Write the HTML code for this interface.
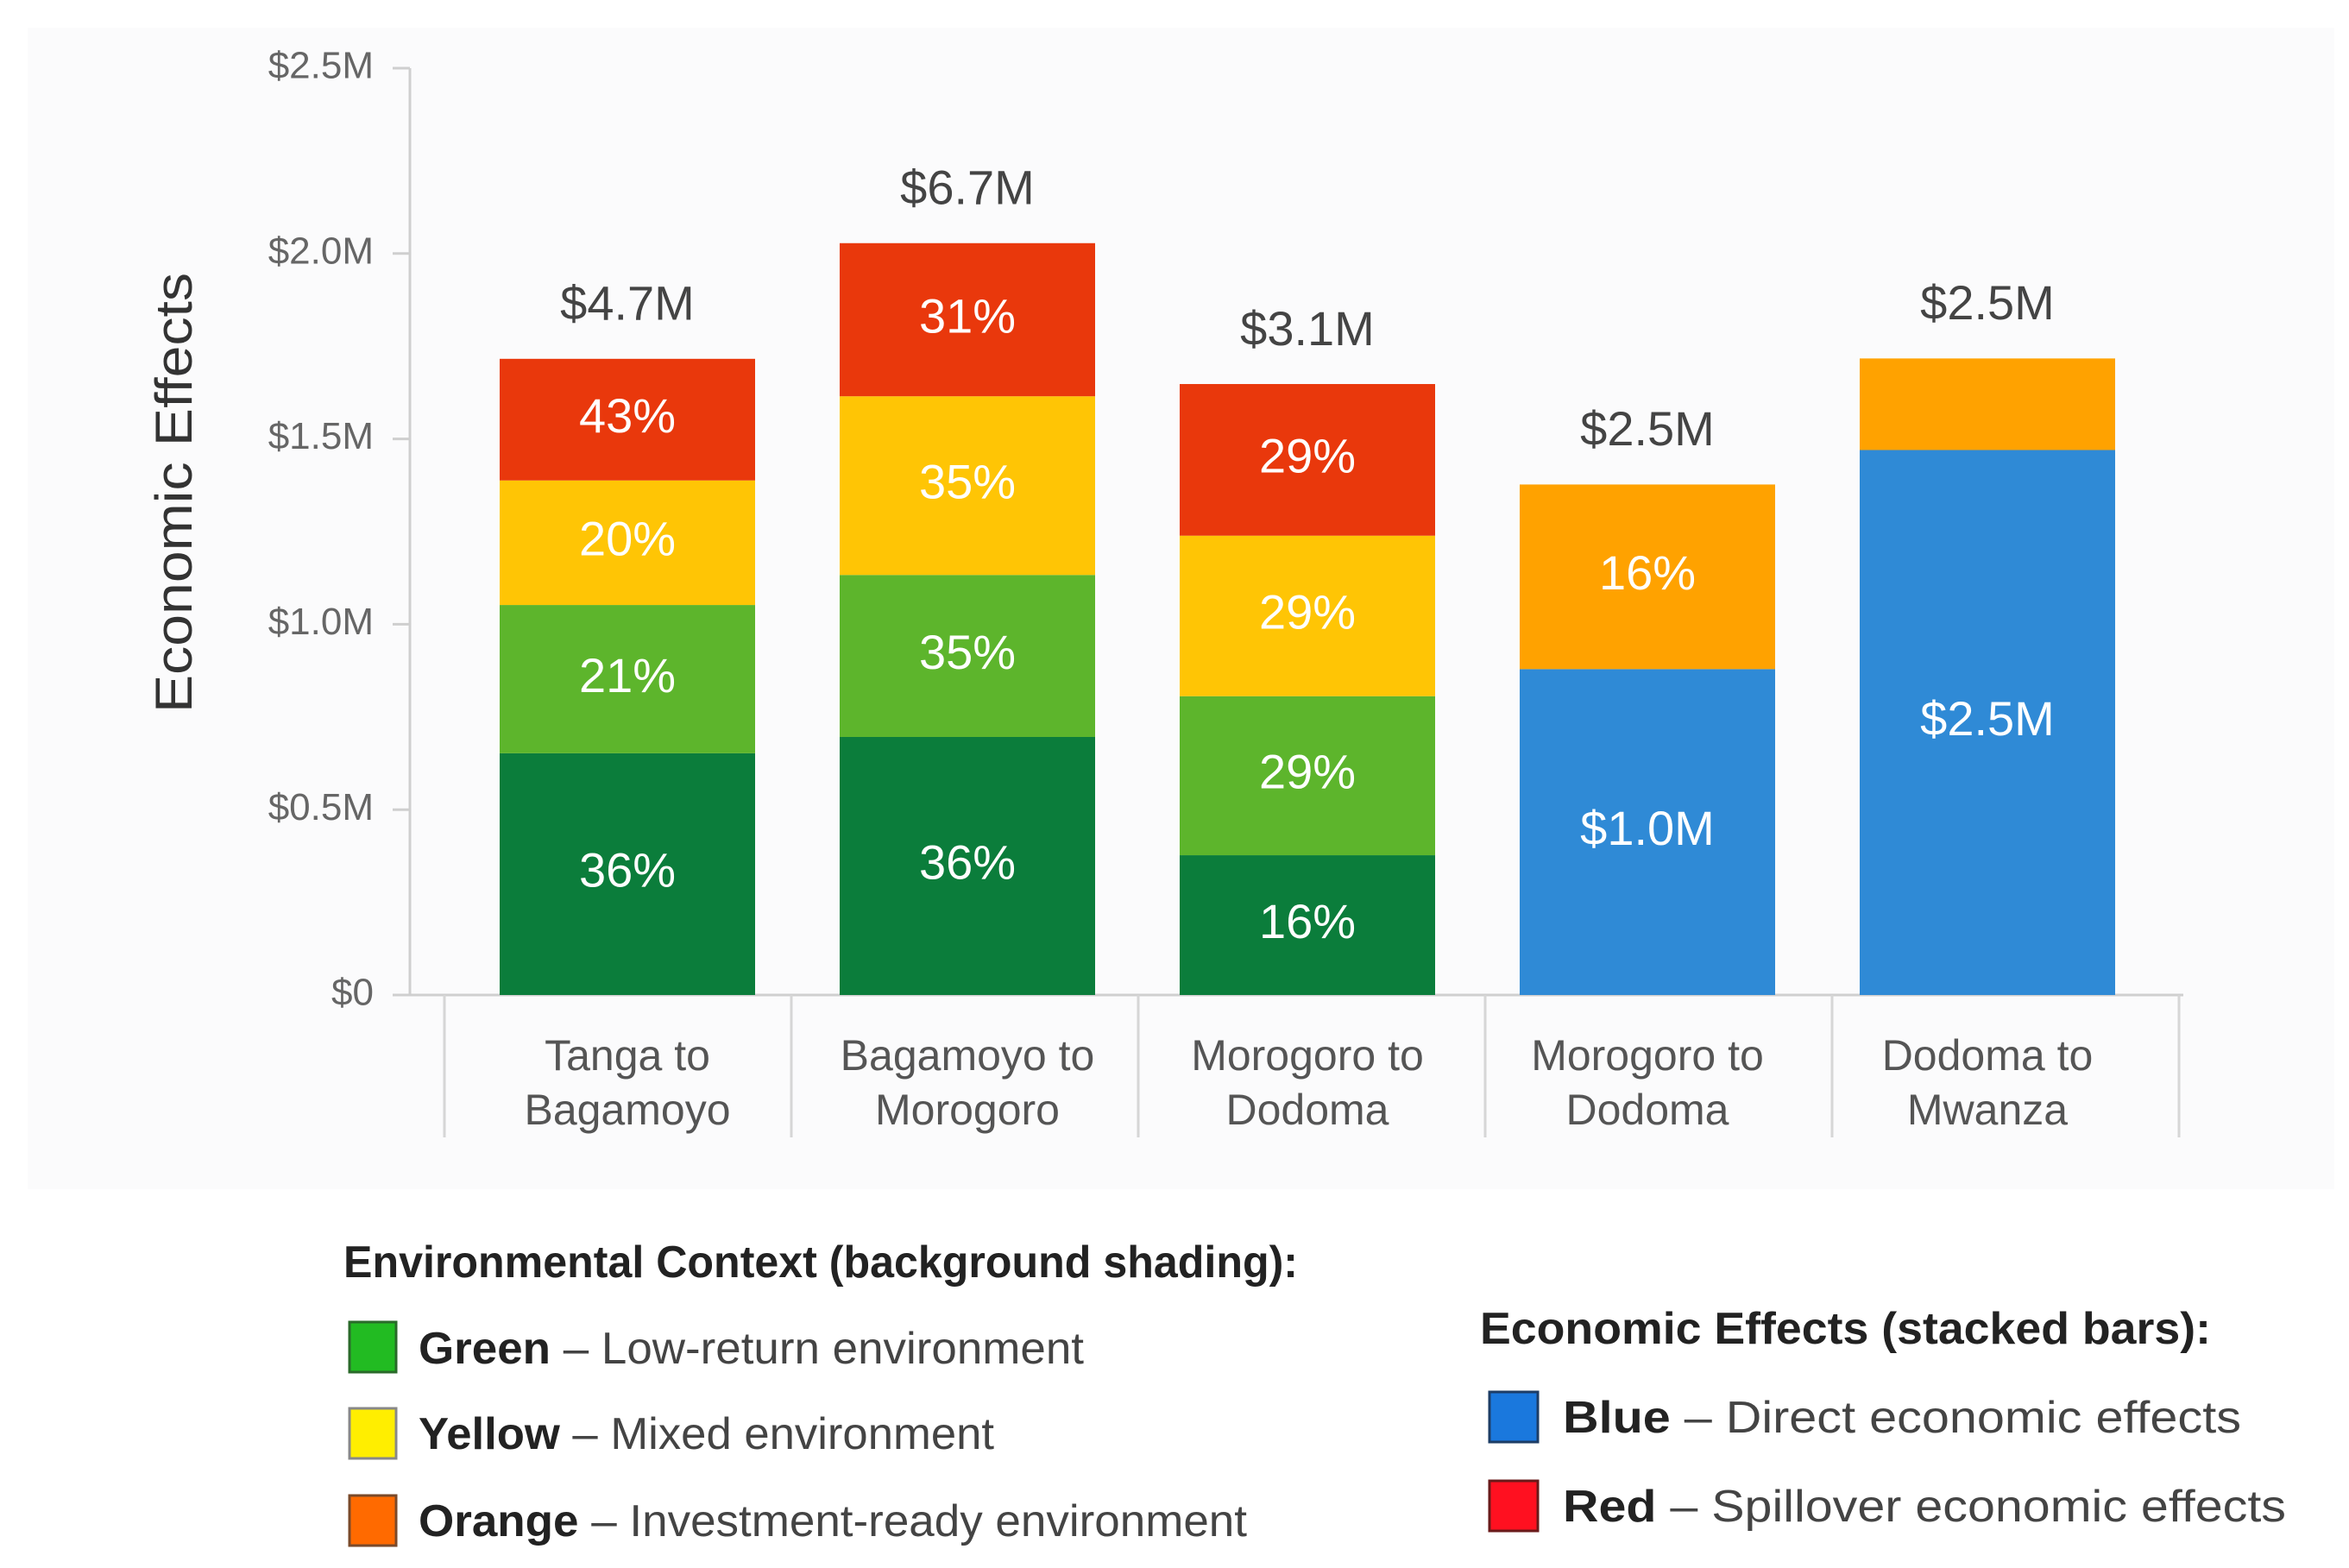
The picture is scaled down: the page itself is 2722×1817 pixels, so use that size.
<!DOCTYPE html>
<html><head><meta charset="utf-8"><style>
html,body{margin:0;padding:0;background:#fff;}
svg{display:block;font-family:"Liberation Sans",sans-serif;}
</style></head><body>
<svg id="chart" width="2722" height="1817" viewBox="0 0 2722 1817" xmlns="http://www.w3.org/2000/svg">
<rect x="32" y="32" width="2673" height="1346" fill="#fbfbfc"/>
<g id="axes"></g>
<g id="bars"></g>
<g id="labels"></g>
<text x="206" y="571" transform="rotate(-90 206 571)" text-anchor="middle" dominant-baseline="middle" font-size="60" fill="#333" textLength="510" lengthAdjust="spacingAndGlyphs">Economic Effects</text>
<g>
<text x="398" y="1480" font-size="52" font-weight="bold" fill="#222" textLength="1106" lengthAdjust="spacingAndGlyphs">Environmental Context (background shading):</text>
<rect x="405" y="1532" width="54" height="58" fill="#22bb22" stroke="#2a6a2a" stroke-width="3"/>
<text x="485" y="1580" font-size="52" fill="#444" textLength="771" lengthAdjust="spacingAndGlyphs"><tspan font-weight="bold" fill="#222">Green</tspan> – Low-return environment</text>
<rect x="405" y="1632" width="54" height="58" fill="#ffee00" stroke="#888" stroke-width="3"/>
<text x="485" y="1679" font-size="52" fill="#444" textLength="667" lengthAdjust="spacingAndGlyphs"><tspan font-weight="bold" fill="#222">Yellow</tspan> – Mixed environment</text>
<rect x="405" y="1733" width="54" height="58" fill="#ff6a00" stroke="#7a4a2a" stroke-width="3"/>
<text x="485" y="1780" font-size="52" fill="#444" textLength="960" lengthAdjust="spacingAndGlyphs"><tspan font-weight="bold" fill="#222">Orange</tspan> – Investment-ready environment</text>
</g>
<g>
<text x="1715" y="1557" font-size="52" font-weight="bold" fill="#222" textLength="847" lengthAdjust="spacingAndGlyphs">Economic Effects (stacked bars):</text>
<rect x="1726" y="1613" width="56" height="58" fill="#1a78dd" stroke="#1d3d66" stroke-width="3"/>
<text x="1811" y="1660" font-size="52" fill="#444" textLength="786" lengthAdjust="spacingAndGlyphs"><tspan font-weight="bold" fill="#222">Blue</tspan> – Direct economic effects</text>
<rect x="1726" y="1716" width="56" height="58" fill="#ff1020" stroke="#6a1a1a" stroke-width="3"/>
<text x="1811" y="1763" font-size="52" fill="#444" textLength="838" lengthAdjust="spacingAndGlyphs"><tspan font-weight="bold" fill="#222">Red</tspan> – Spillover economic effects</text>
</g>
</svg>
<script>
const categoriesLine1 = ["Tanga to","Bagamoyo to","Morogoro to","Morogoro to","Dodoma to"];
const categoriesLine2 = ["Bagamoyo","Morogoro","Dodoma","Dodoma","Mwanza"];
const totalLabels = ["$4.7M","$6.7M","$3.1M","$2.5M","$2.5M"];
const darkGreenValues = [0.652,0.696,0.377,0,0];
const lightGreenValues = [0.400,0.437,0.429,0,0];
const yellowValues = [0.336,0.482,0.433,0,0];
const redValues = [0.328,0.413,0.409,0,0];
const blueValues = [0,0,0,0.879,1.470];
const orangeValues = [0,0,0,0.498,0.247];
const darkGreenLabels = ["36%","36%","16%","",""];
const lightGreenLabels = ["21%","35%","29%","",""];
const yellowLabels = ["20%","35%","29%","",""];
const redLabels = ["43%","31%","29%","",""];
const blueLabels = ["","","","$1.0M","$2.5M"];
const orangeLabels = ["","","","16%",""];
const yTicks = [0,0.5,1.0,1.5,2.0,2.5];
const yTickLabels = ["$0","$0.5M","$1.0M","$1.5M","$2.0M","$2.5M"];

const NS = "http://www.w3.org/2000/svg";
const y0 = 1153, pxPerM = 429.6;
const bandX0 = 515, bandW = 402, barW = 296;
const barC0 = 727, barStep = 394;
function yScale(v){ return y0 - v*pxPerM; }
function barCenter(i){ return barC0 + barStep*i; }
function mk(tag, attrs, parent){ const e=document.createElementNS(NS,tag); for(const k in attrs) e.setAttribute(k,attrs[k]); parent.appendChild(e); return e; }
const axes=document.getElementById('axes'), bars=document.getElementById('bars'), labels=document.getElementById('labels');

let el = mk('line',{x1:475,y1:yScale(2.5),x2:475,y2:y0,stroke:'#cfcfcf','stroke-width':3},axes);


el = mk('line',{x1:455,y1:y0,x2:2530,y2:y0,stroke:'#cfcfcf','stroke-width':3},axes);


yTicks.forEach((t,i)=>{
  const y=yScale(t);
  const tk=mk('line',{x1:455,y1:y,x2:475,y2:y,stroke:'#cfcfcf','stroke-width':3},axes);
  
  
  const tl=mk('text',{x:433,y:y,'text-anchor':'end','dominant-baseline':'middle','font-size':44,fill:'#666'},axes);
  tl.textContent=yTickLabels[i];
  
  
});
for(let i=0;i<=categoriesLine1.length;i++){
  const x=bandX0+bandW*i;
  const d=mk('line',{x1:x,y1:y0,x2:x,y2:1318,stroke:'#d6d6d6','stroke-width':3},axes);
  
  
}
categoriesLine1.forEach((c,i)=>{
  const t=mk('text',{x:barCenter(i),'text-anchor':'middle','font-size':50,fill:'#555'},axes);
  
  
  const a=mk('tspan',{x:barCenter(i),y:1240},t); a.textContent=c;
  const b=mk('tspan',{x:barCenter(i),y:1303},t); b.textContent=categoriesLine2[i];
});

const series=[
 {vals:darkGreenValues,labs:darkGreenLabels,color:'#0b7d3b',name:'dark-green'},
 {vals:blueValues,labs:blueLabels,color:'#2f8ad6',name:'blue'},
 {vals:lightGreenValues,labs:lightGreenLabels,color:'#5db52c',name:'light-green'},
 {vals:yellowValues,labs:yellowLabels,color:'#ffc505',name:'yellow'},
 {vals:orangeValues,labs:orangeLabels,color:'#ffa200',name:'orange'},
 {vals:redValues,labs:redLabels,color:'#e9380c',name:'red'}
];
categoriesLine1.forEach((c,i)=>{
  let cum=0;
  const x=barCenter(i)-barW/2;
  series.forEach(s=>{
    const v=s.vals[i];
    if(v<=0) return;
    const yt=yScale(cum+v), yb=yScale(cum);
    const r=mk('rect',{x:x,y:yt,width:barW,height:yb-yt,fill:s.color},bars);
    
    
    if(s.labs[i]){
      const t=mk('text',{x:barCenter(i),y:(yt+yb)/2,'text-anchor':'middle','dominant-baseline':'middle','font-size':56,fill:'#ffffff'},labels);
      t.textContent=s.labs[i];
      
      
    }
    cum+=v;
  });
  const t=mk('text',{x:barCenter(i),y:yScale(cum)-60,'text-anchor':'middle','dominant-baseline':'middle','font-size':56,fill:'#444'},labels);
  t.textContent=totalLabels[i];
  
  
});
</script>
</body></html>
